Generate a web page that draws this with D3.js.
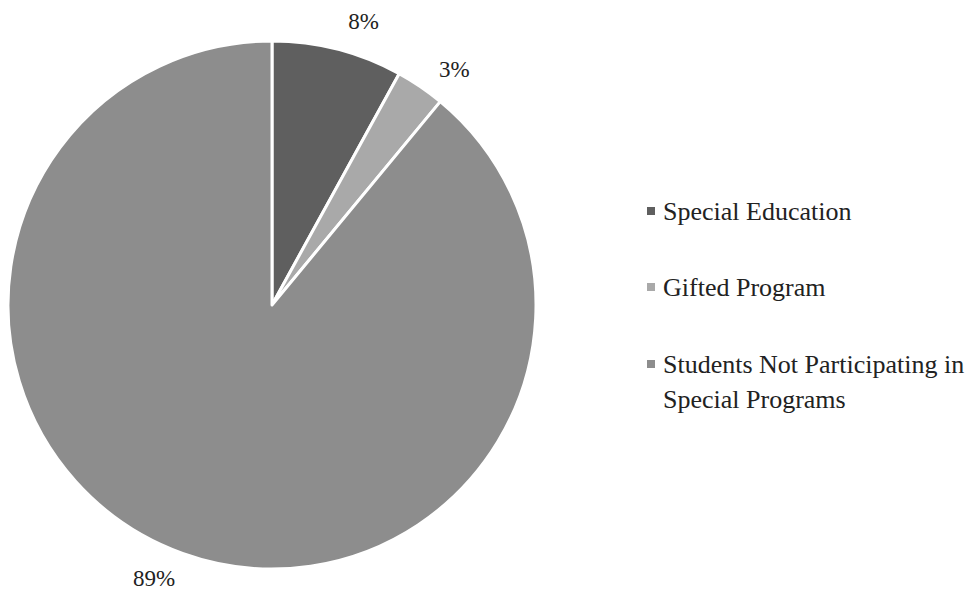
<!DOCTYPE html>
<html>
<head>
<meta charset="utf-8">
<script src="https://cdn.jsdelivr.net/npm/d3@7"></script>
<style>
  html, body { margin: 0; padding: 0; background: #fff; }
  svg { display: block; font-family: "Liberation Serif", "Times New Roman", serif; }
</style>
</head>
<body>
<svg id="chart" width="976" height="592"></svg>
<script>
// Student enrolment by program
const categories = ["Special Education", "Gifted Program", "Students Not Participating in Special Programs"];
const values = [8, 3, 89];
const valueLabels = ["8%", "3%", "89%"];
const legendLines = [["Special Education"], ["Gifted Program"], ["Students Not Participating in", "Special Programs"]];
const colors = ["#5f5f5f", "#a9a9a9", "#8d8d8d"];

const svg = d3.select("#chart");
const cx = 272, cy = 305, radius = 264;

const color = d3.scaleOrdinal().domain(categories).range(colors);

const pie = d3.pie().sort(null).value(d => d.value);
const data = categories.map((c, i) => ({ name: c, value: values[i], label: valueLabels[i] }));
const arcs = pie(data);

const arc = d3.arc().innerRadius(0).outerRadius(radius);

const g = svg.append("g").attr("transform", `translate(${cx},${cy})`);

g.selectAll("path.slice")
  .data(arcs)
  .join("path")
  .attr("class", "slice")
  .attr("d", arc)
  .attr("fill", d => color(d.data.name))
  .attr("stroke", "#fff")
  .attr("stroke-width", 3)
  .attr("stroke-linejoin", "round");

// Percentage labels just outside the rim
const labelRadius = 298;
const labelShift = 3.5 * Math.PI / 180;
g.selectAll("text.pct")
  .data(arcs)
  .join("text")
  .attr("class", "pct")
  .attr("x", d => labelRadius * Math.sin((d.startAngle + d.endAngle) / 2 + labelShift))
  .attr("y", d => -labelRadius * Math.cos((d.startAngle + d.endAngle) / 2 + labelShift))
  .attr("text-anchor", "middle")
  .attr("dominant-baseline", "central")
  .attr("font-size", 23)
  .attr("fill", "#222")
  .text(d => d.data.label);

// Legend
const legend = svg.append("g").attr("transform", "translate(647,0)");
const rowY = [220, 296, 373];
const item = legend.selectAll("g.item")
  .data(categories)
  .join("g")
  .attr("class", "item")
  .attr("transform", (d, i) => `translate(0,${rowY[i]})`);

item.append("rect")
  .attr("x", 0)
  .attr("y", -13)
  .attr("width", 8)
  .attr("height", 8)
  .attr("fill", d => color(d));

item.append("text")
  .attr("x", 16)
  .attr("y", 0)
  .attr("font-size", 26)
  .attr("fill", "#222")
  .selectAll("tspan")
  .data((d, i) => legendLines[i])
  .join("tspan")
  .attr("x", 16)
  .attr("dy", (d, j) => j === 0 ? 0 : 35)
  .text(d => d);
</script>
</body>
</html>
